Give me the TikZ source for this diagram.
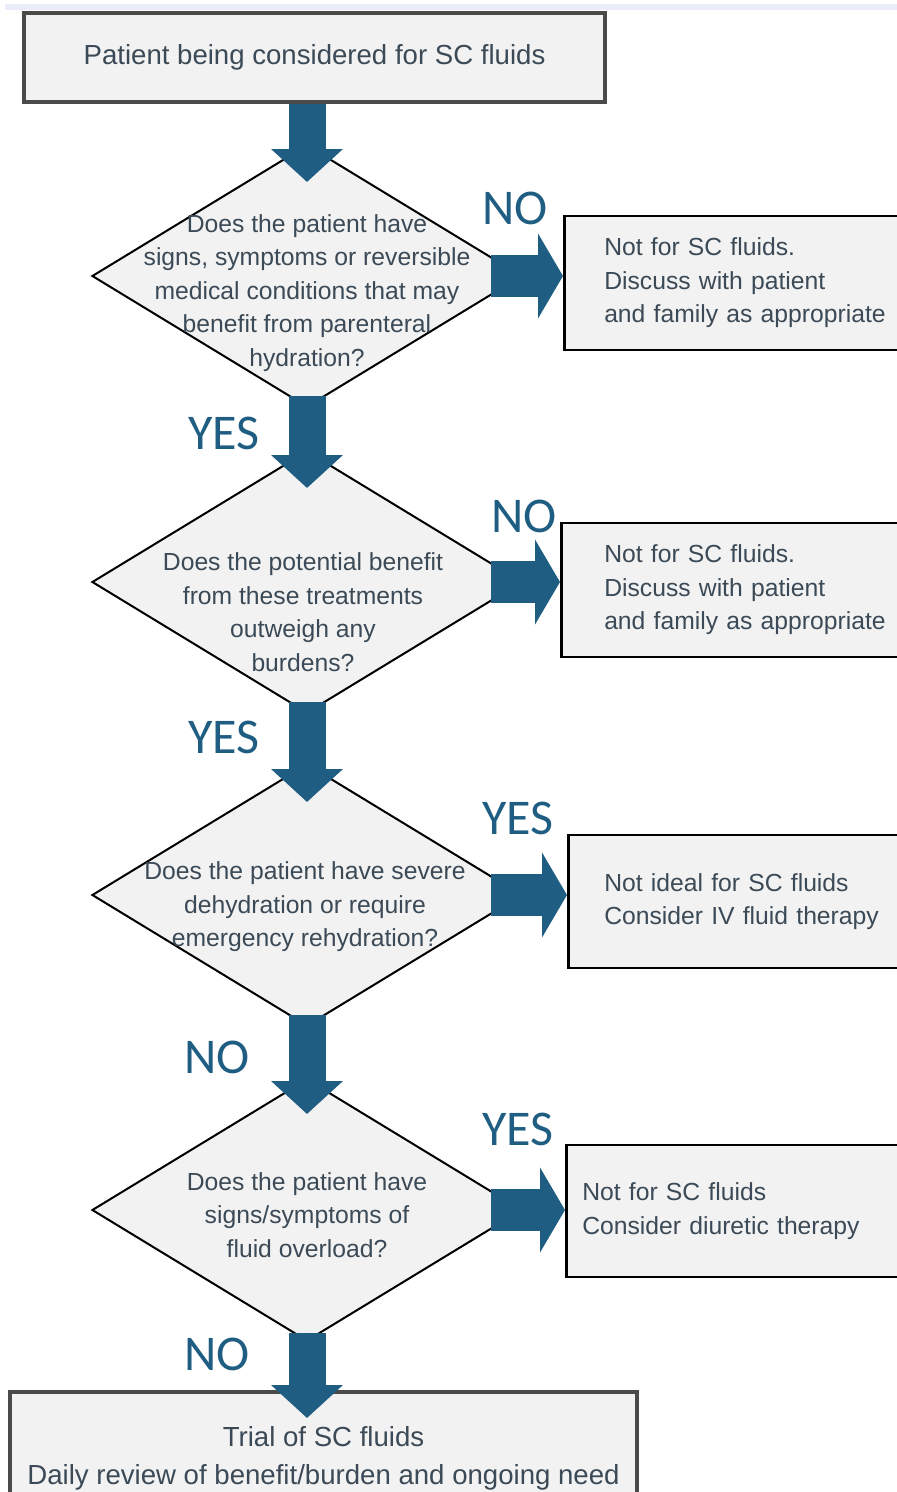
\documentclass[tikz,border=0pt]{standalone}
\usepackage{fontspec}
\setmainfont{Liberation Sans}
\newfontfamily\labfont{Carlito}
\usetikzlibrary{shapes.geometric,arrows.meta,calc}
\definecolor{arr}{HTML}{1F5E82}
\definecolor{txt}{HTML}{3B4A56}
\definecolor{boxfill}{HTML}{F2F2F2}
\definecolor{band}{HTML}{EAEDF9}
\definecolor{frame}{HTML}{4A4A4A}
\tikzset{
  decision/.style={diamond, draw=black, line width=2pt, fill=boxfill,
    minimum width=430pt, minimum height=262pt, inner sep=0pt},
  qtext/.style={text=txt, align=center, inner sep=0pt,
    font=\fontsize{24.7}{33.5}\selectfont},
  outbox/.style={draw=black, line width=2.5pt, fill=boxfill, anchor=west,
    text=txt, align=left, text width=330pt, inner ysep=0pt,
    font=\fontsize{24.7}{33.5}\selectfont},
  endbox/.style={draw=frame, line width=3.5pt, fill=boxfill, text=txt,
    align=center, inner sep=0pt, font=\fontsize{27.6}{38}\selectfont},
  lab/.style={text=arr, inner sep=0pt, font=\labfont\fontsize{50}{50}\selectfont},
  downarrow/.style={draw=arr, line width=37pt, -{Triangle[width=70pt,length=33pt]}},
  rightarrow/.style={draw=arr, line width=42pt, -{Triangle[width=84pt,length=25pt]}}
}
\begin{document}
\begin{tikzpicture}[x=1pt, y=-1pt]
\useasboundingbox (0,0) rectangle (897,1492);
\clip (0,0) rectangle (897,1492);
\fill[band] (5,4) rectangle (897,10);

% top and bottom boxes
\node[endbox, minimum width=581pt, minimum height=89pt] (top) at (314.5,57.5)
  {Patient being considered for SC fluids};
\node[endbox, anchor=north, minimum width=627pt, minimum height=134pt] (bb) at (323.5,1390)
  {Trial of SC fluids\\Daily review of benefit/burden and ongoing need};

% decisions
\node[decision] (d1) at (307,276) {};
\node[decision] (d2) at (307,582) {};
\node[decision] (d3) at (307,895) {};
\node[decision] (d4) at (307,1210) {};

\node[qtext] (t1) at (307,293) {Does the patient have\\signs, symptoms or reversible\\medical conditions that may\\benefit from parenteral\\hydration?};
\node[qtext] (t2) at (303,612) {Does the potential benefit\\from these treatments\\outweigh any\\burdens?};
\node[qtext] (t3) at (305,907) {Does the patient have severe\\dehydration or require\\emergency rehydration?};
\node[qtext] (t4) at (307,1215) {Does the patient have\\signs/symptoms of\\fluid overload?};

% outcome boxes
\node[outbox, minimum height=134pt, inner xsep=40pt] (b1) at (563,283)
  {Not for SC fluids.\\Discuss with patient\\and family as appropriate};
\node[outbox, minimum height=134pt, inner xsep=43pt] (b2) at (560,590)
  {Not for SC fluids.\\Discuss with patient\\and family as appropriate};
\node[outbox, minimum height=133pt, inner xsep=36pt] (b3) at (567,901.5)
  {Not ideal for SC fluids\\Consider IV fluid therapy};
\node[outbox, minimum height=132pt, inner xsep=16pt] (b4) at (565,1211)
  {Not for SC fluids\\Consider diuretic therapy};

% connectors
\draw[downarrow] (top.south -| d1.north) -- ($(d1.north)+(0,38)$);
\draw[downarrow] ($(d1.south)+(0,-12)$) -- ($(d2.north)+(0,38)$);
\draw[downarrow] ($(d2.south)+(0,-12)$) -- ($(d3.north)+(0,39)$);
\draw[downarrow] ($(d3.south)+(0,-12)$) -- ($(d4.north)+(0,36)$);
\draw[downarrow] ($(d4.south)+(0,-9)$) -- ($(bb.north -| d4.south)+(0,28)$);

\draw[rightarrow] ($(d1.east)+(-32,0)$) -- (b1.west |- d1.east);
\draw[rightarrow] ($(d2.east)+(-32,0)$) -- (b2.west |- d2.east);
\draw[rightarrow] ($(d3.east)+(-32,0)$) -- (b3.west |- d3.east);
\draw[rightarrow] ($(d4.east)+(-32,0)$) -- (b4.west |- d4.east);

% labels
\node[lab] (n1) at (515,208) {NO};
\node[lab] (y1) at (224,433) {YES};
\node[lab] (n2) at (524,516) {NO};
\node[lab] (y2) at (224,737) {YES};
\node[lab] (y3) at (518,818) {YES};
\node[lab] (n3) at (217,1057) {NO};
\node[lab] (y4) at (518,1129) {YES};
\node[lab] (n5) at (217,1354) {NO};
\end{tikzpicture}
\end{document}
